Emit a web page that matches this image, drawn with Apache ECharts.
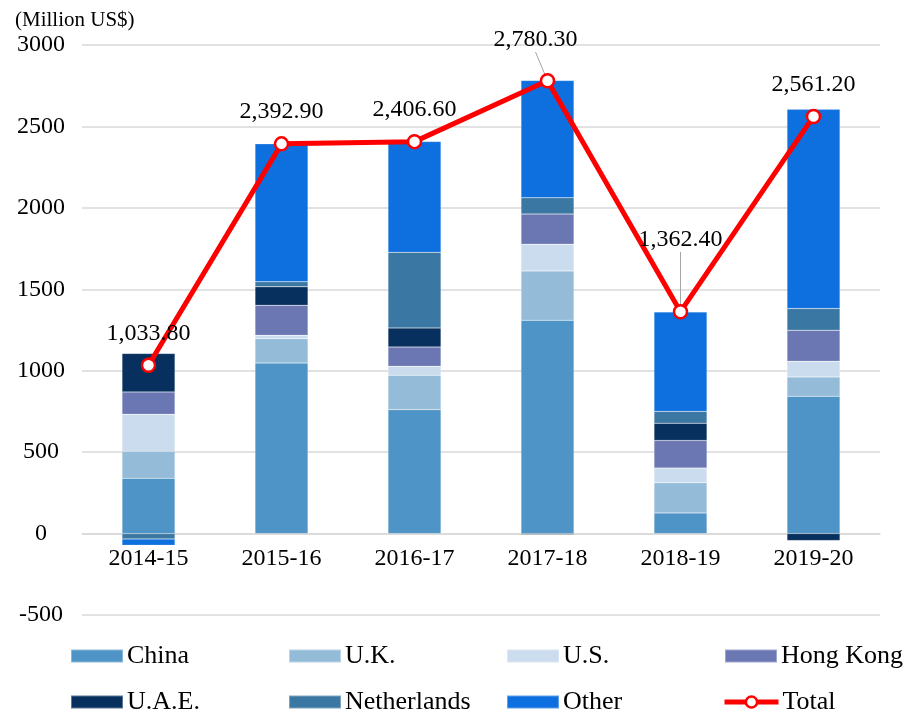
<!DOCTYPE html>
<html>
<head>
<meta charset="utf-8">
<script src="https://cdn.jsdelivr.net/npm/echarts@6/dist/echarts.min.js"></script>
<style>
  html, body { margin: 0; padding: 0; background: #fff; }
  #main { width: 906px; height: 714px; }
</style>
</head>
<body>
<div id="main"></div>
<script>
var years = ['2014-15', '2015-16', '2016-17', '2017-18', '2018-19', '2019-20'];
var china = [340, 1047, 761, 1310, 127, 843];
var uk = [165, 150, 211, 303, 185, 119];
var us = [228, 20, 55, 164, 90, 96];
var hongKong = [137, 185, 119, 185, 170, 191];
var uae = [236, 113, 117, -5, 106, -43];
var netherlands = [-33, 31, 464, 100, 72, 133];
var other = [-38, 847, 680, 720, 611, 1224];
var total = [1033.8, 2392.9, 2406.6, 2780.3, 1362.4, 2561.2];

var FONT = 'Liberation Serif';

function fmt(v) {
    var s = v.toFixed(2).split('.');
    s[0] = s[0].replace(/\B(?=(\d{3})+(?!\d))/g, ',');
    return s.join('.');
}

function barSeries(name, data, color) {
    return {
        name: name,
        type: 'bar',
        stack: 'exports',
        barWidth: 53,
        data: data,
        itemStyle: { color: color, borderColor: 'rgba(255,255,255,0.35)', borderWidth: 0.5 }
    };
}

// one legend per item so they line up in a 4 x 2 grid
var legendItems = [
    ['China', 70, 643], ['U.K.', 288, 643], ['U.S.', 506, 643], ['Hong Kong', 724, 643],
    ['U.A.E.', 70, 689], ['Netherlands', 288, 689], ['Other', 506, 689], ['Total', 722, 689]
];
var legends = legendItems.map(function (it) {
    var isLine = it[0] === 'Total';
    var lg = {
        data: [it[0]],
        left: it[1],
        top: it[2],
        itemWidth: isLine ? 54 : 52,
        itemHeight: isLine ? 14 : 13,
        itemGap: 0,
        padding: 0,
        textStyle: { fontFamily: FONT, fontSize: 26, color: '#000', padding: [0, 0, 0, -1] }
    };
    if (isLine) {
        lg.lineStyle = { width: 5, color: '#ff0000' };
        lg.itemStyle = { color: '#fff', borderColor: '#ff0000', borderWidth: 2.5 };
    } else {
        lg.icon = 'rect';
    }
    return lg;
});

var totalData = total.map(function (v, i) {
    var item = { value: v };
    if (i === 3 || i === 4) {
        item.labelLine = { show: true, lineStyle: { color: '#a6a6a6', width: 1 } };
    }
    return item;
});

var option = {
    animation: false,
    backgroundColor: '#fff',
    title: {
        text: '(Million US$)',
        left: 10,
        top: 5,
        textStyle: { fontFamily: FONT, fontSize: 21, fontWeight: 'normal', color: '#000' }
    },
    legend: legends,
    grid: [
        { left: 82, right: 26, top: 45, bottom: 99 },
        // second grid ends at the zero line, only used to place category labels there
        { left: 82, right: 26, top: 45, bottom: 181 }
    ],
    xAxis: [
        {
            type: 'category',
            data: years,
            axisLine: { onZero: true, lineStyle: { color: '#d9d9d9', width: 1.5 } },
            axisTick: { show: false },
            axisLabel: { show: false }
        },
        {
            type: 'category',
            gridIndex: 1,
            data: years,
            axisLine: { show: false },
            axisTick: { show: false },
            axisLabel: { fontFamily: FONT, fontSize: 24, color: '#000', margin: 14 }
        }
    ],
    yAxis: [
        {
            type: 'value',
            min: -500,
            max: 3000,
            interval: 500,
            axisLine: { show: false },
            axisTick: { show: false },
            splitLine: { lineStyle: { color: '#d9d9d9', width: 1.5 } },
            axisLabel: {
                fontFamily: FONT, fontSize: 24, color: '#000', align: 'center', margin: 41,
                formatter: function (v) { return String(v); }
            }
        },
        {
            type: 'value',
            gridIndex: 1,
            min: 0,
            max: 1,
            show: false
        }
    ],
    series: [
        barSeries('China', china, '#4f94c6'),
        barSeries('U.K.', uk, '#94bbd8'),
        barSeries('U.S.', us, '#cadced'),
        barSeries('Hong Kong', hongKong, '#6b77b3'),
        barSeries('U.A.E.', uae, '#08305e'),
        barSeries('Netherlands', netherlands, '#3a77a2'),
        barSeries('Other', other, '#0e6fdf'),
        {
            name: 'Total',
            type: 'line',
            data: totalData,
            z: 10,
            symbol: 'circle',
            symbolSize: 13,
            lineStyle: { color: '#ff0000', width: 5 },
            itemStyle: { color: '#fff', borderColor: '#ff0000', borderWidth: 2.5 },
            label: {
                show: true,
                position: 'top',
                distance: 12,
                fontFamily: FONT,
                fontSize: 24,
                color: '#000',
                formatter: function (p) { return fmt(p.value); }
            },
            labelLayout: function (p) {
                if (p.dataIndex === 3) return { dx: -12, dy: -9 };
                if (p.dataIndex === 4) return { dy: -40 };
                return {};
            }
        }
    ]
};

var myChart = echarts.init(document.getElementById('main'));
myChart.setOption(option, true);
</script>
</body>
</html>
